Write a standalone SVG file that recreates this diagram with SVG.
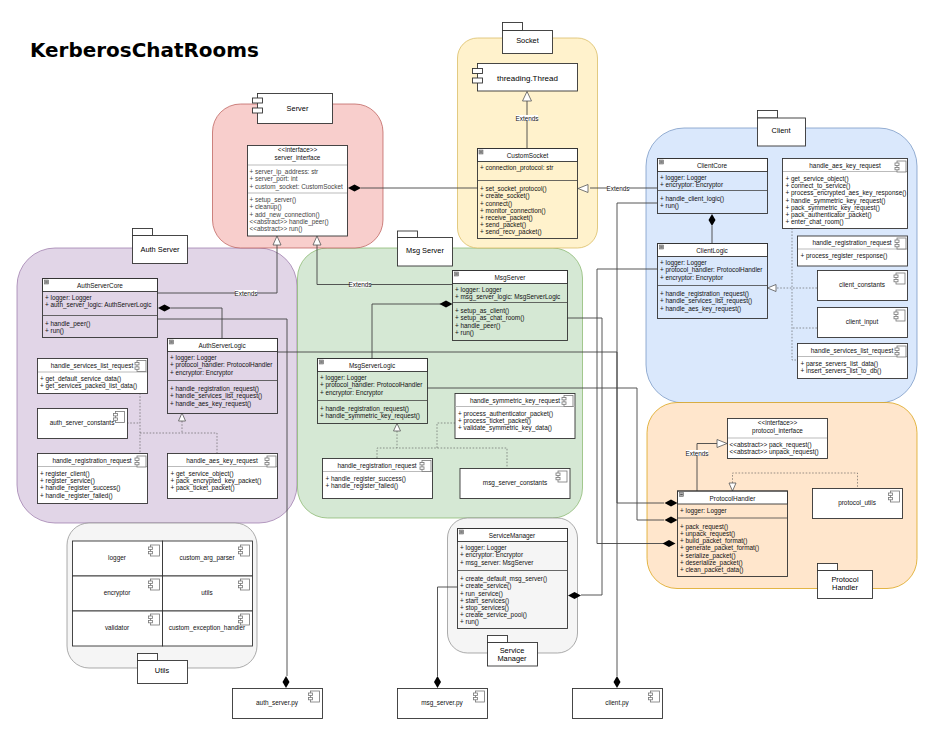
<svg xmlns="http://www.w3.org/2000/svg" xmlns:xlink="http://www.w3.org/1999/xlink" width="932" height="731" viewBox="0 0 932 731">
<style>
text{font-family:"Liberation Sans",Arial,sans-serif;font-size:6.4px;fill:#111}
.c{text-anchor:middle}
.p{font-size:7.4px;text-anchor:middle;fill:#000}
.t{font-family:"DejaVu Sans",sans-serif;font-weight:700;font-size:19.95px;fill:#000}
.g{stroke-width:.7}
.box{fill:none;stroke:#333;stroke-width:.9}
.w{fill:#fff;stroke:#333;stroke-width:.9}
.div{fill:none;stroke:#444;stroke-width:.8}
.lt{fill:none;stroke:#bbb;stroke-width:1}
.gr{fill:#444}
.ln{fill:none;stroke:#444;stroke-width:.9}
.ds{fill:none;stroke:#555;stroke-width:.6;stroke-dasharray:1.6 1.6}
.lab{fill:#fff;stroke:none}
.d{fill:#000;stroke:none}
.tri{fill:#fff;stroke:#555;stroke-width:.8}
.ic{fill:#fff;stroke:#777;stroke-width:.8}
.m{fill:#aaa;stroke:#555;stroke-width:.5}
.m2{stroke:#222;stroke-width:.6}
</style>
<defs>
<g id="ic"><rect class="ic" x="2" y="0" width="9" height="11"/><rect class="ic" x="0" y="2" width="4" height="2.4"/><rect class="ic" x="0" y="6.4" width="4" height="2.4"/></g>
<g id="col"><rect class="m" width="4" height="4"/><path class="m2" d="M.8 2H3.2"/></g>
<path id="dh" class="d" d="M-6.5 0L0 -3.5L6.5 0L0 3.5Z"/>
<path id="dv" class="d" d="M0 -6L3.5 0L0 6L-3.5 0Z"/>
</defs>
<text class="t" x="30" y="57">KerberosChatRooms</text>

<g id="auth-group"><rect class="g" x="17" y="248" width="280" height="275" rx="38" fill="#e1d5e7" stroke="#9673a6"/></g>
<g id="msg-group"><rect class="g" x="297.500" y="248" width="285" height="270" rx="30" fill="#d5e8d4" stroke="#82b366"/></g>
<g id="server-group"><rect class="g" x="212.500" y="104" width="170.500" height="144" rx="28" fill="#f8cecc" stroke="#b85450"/></g>
<g id="socket-group"><rect class="g" x="457.500" y="38" width="140" height="210" rx="20" fill="#fff2cc" stroke="#d6b656"/></g>
<g id="client-group"><rect class="g" x="646" y="128" width="271" height="275" rx="38" fill="#dae8fc" stroke="#6c8ebf"/></g>
<g id="protocol-group"><rect class="g" x="647" y="402.500" width="270" height="186" rx="30" fill="#ffe6cc" stroke="#d79b00"/></g>
<g id="utils-group"><rect class="g" x="67" y="523" width="190" height="145" rx="22" fill="#f5f5f5" stroke="#888"/></g>
<g id="manager-group"><rect class="g" x="447.500" y="518" width="130" height="135" rx="20" fill="#f5f5f5" stroke="#888"/></g>

<g id="connectors">
<path class="ln" d="M157 293H277V245"/>
<path class="ln" d="M171 308H222V338"/>
<path class="ln" d="M157 319H287V676"/>
<path class="ln" d="M277 352H617V497"/>
<path class="ln" d="M617 497V503H664"/>
<path class="ln" d="M452 284.500H317V245"/>
<path class="ln" d="M441 304H372V358"/>
<path class="ln" d="M427 388H637V520H664"/>
<path class="ln" d="M567 318H602V595H581"/>
<path class="ln" d="M657 269H597V543.500H664"/>
<path class="ln" d="M657 203H617V676"/>
<path class="ln" d="M657 188H590"/>
<path class="ln" d="M361 188H478"/>
<path class="ln" d="M527 148V101"/>
<path class="ln" d="M712 226V243"/>
<path class="ln" d="M697 491V443.500H717"/>
<path class="ln" d="M457 587H437.500V676"/>
<path class="ds" d="M140 393V453M127 423H140M182 421V433M140 433H217V453"/>
<path class="ds" d="M397 431V448M377 458V448H507V468M437 448V423H455"/>
<path class="ds" d="M792 228V360H797M817 288H777M817 328H792M807 251H818"/>
<path class="ds" d="M732.500 483V473H857.500V488"/>
<path class="tri" d="M277 236L281 245H273Z"/>
<path class="tri" d="M317 236L321 245H313Z"/>
<path class="tri" d="M527 91.500L531.500 101H522.500Z"/>
<path class="tri" d="M578 188.500L588 184.500V192.500Z"/>
<path class="tri" d="M182 413L185.500 421H178.500Z"/>
<path class="tri" d="M397 423.500L400.500 431H393.500Z"/>
<path class="tri" d="M767.500 288L776 284.500V291.500Z"/>
<path class="tri" d="M727 443.500L717 439.500V447.500Z"/>
<path class="tri" d="M732.500 491L729 483H736Z"/>
<use xlink:href="#dh" href="#dh" x="164.500" y="308"/>
<use xlink:href="#dh" href="#dh" x="446" y="304"/>
<use xlink:href="#dh" href="#dh" x="354.500" y="188"/>
<use xlink:href="#dh" href="#dh" x="671" y="503"/>
<use xlink:href="#dh" href="#dh" x="671" y="520"/>
<use xlink:href="#dh" href="#dh" x="669" y="543.500"/>
<use xlink:href="#dh" href="#dh" x="574.500" y="595.500"/>
<use xlink:href="#dv" href="#dv" x="712" y="220"/>
<use xlink:href="#dv" href="#dv" x="286" y="682"/>
<use xlink:href="#dv" href="#dv" x="437.500" y="682"/>
<use xlink:href="#dv" href="#dv" x="617" y="682"/>
<rect class="lab" x="235" y="290" width="22" height="6"/><text class="c" x="246" y="295.500">Extends</text>
<rect class="lab" x="349.500" y="281.500" width="21" height="6"/><text class="c" x="360" y="286.500">Extends</text>
<rect class="lab" x="516" y="115" width="22" height="6"/><text class="c" x="527" y="120.500">Extends</text>
<rect class="lab" x="607" y="185" width="22" height="6"/><text class="c" x="618" y="190.500">Extends</text>
<rect class="lab" x="686" y="450" width="22" height="6"/><text class="c" x="697" y="455.500">Extends</text>
</g>

<g id="pkg-auth"><rect class="w" x="132.500" y="228.500" width="20" height="7"/><rect class="w" x="132.500" y="235.500" width="55" height="28"/><text class="p" x="160" y="251.500">Auth Server</text></g>
<g id="pkg-msg"><rect class="w" x="397.500" y="231" width="20" height="6.500"/><rect class="w" x="397.500" y="237.500" width="55" height="28.500"/><text class="p" x="425" y="253">Msg Server</text></g>
<g id="pkg-socket"><rect class="w" x="502.500" y="22.500" width="20" height="8"/><rect class="w" x="502.500" y="30.500" width="50" height="23"/><text class="p" x="527.500" y="43">Socket</text></g>
<g id="pkg-client"><rect class="w" x="757.500" y="110.500" width="20" height="7.500"/><rect class="w" x="757.500" y="118" width="48" height="28"/><text class="p" x="781" y="133">Client</text></g>
<g id="pkg-protocol"><rect class="w" x="817.500" y="563.500" width="20" height="7"/><rect class="w" x="817.500" y="570.500" width="55" height="28"/><text class="p" x="845" y="582">Protocol</text><text class="p" x="845" y="590">Handler</text></g>
<g id="pkg-utils"><rect class="w" x="137.500" y="653.500" width="20" height="7"/><rect class="w" x="137.500" y="660.500" width="50" height="23"/><text class="p" x="162" y="673">Utils</text></g>
<g id="pkg-manager"><rect class="w" x="487.500" y="635.500" width="20" height="7"/><rect class="w" x="487.500" y="642.500" width="50" height="23.500"/><text class="p" x="512" y="652.500">Service</text><text class="p" x="512" y="660.500">Manager</text></g>

<g id="server"><rect class="w" x="257.500" y="93.500" width="75" height="30"/><rect class="w" x="252.500" y="98" width="10" height="5"/><rect class="w" x="252.500" y="108" width="10" height="5"/><text class="p" x="297.500" y="111">Server</text></g>
<g id="threading-thread"><rect class="w" x="477.500" y="63.500" width="100" height="27.500"/><rect class="w" x="472.500" y="68.500" width="10" height="5"/><rect class="w" x="472.500" y="78" width="10" height="5"/><text class="p" x="527.500" y="80.500" style="font-size:8px">threading.Thread</text></g>

<g id="server-interface"><rect class="w" x="247.500" y="145.500" width="100" height="90.500"/><path class="lt" d="M248 165H347"/><path class="lt" d="M248 193H347"/>
<text class="c" x="297.500" y="152">&lt;&lt;interface&gt;&gt;</text><text class="c" x="297.500" y="160">server_interface</text>
<g fill="#444"><text x="249.500" y="174" class="gr">+ server_ip_address: str</text><text x="249.500" y="181" class="gr">+ server_port: int</text><text x="249.500" y="189" class="gr">+ custom_socket: CustomSocket</text><text x="249.500" y="202" class="gr">+ setup_server()</text><text x="249.500" y="209" class="gr">+ cleanup()</text><text x="249.500" y="217" class="gr">+ add_new_connection()</text><text x="249.500" y="224" class="gr">&lt;&lt;abstract&gt;&gt; handle_peer()</text><text x="249.500" y="231" class="gr">&lt;&lt;abstract&gt;&gt; run()</text></g></g>

<g id="custom-socket"><rect class="w" x="477.500" y="148.500" width="100" height="13"/><rect class="box" x="477.500" y="148.500" width="100" height="90"/><path class="div" d="M477.500 180.500H577.500"/><use xlink:href="#col" href="#col" x="479" y="150"/>
<text class="c" x="527.500" y="157.500">CustomSocket</text>
<text x="480" y="170">+ connection_protocol: str</text>
<text x="480" y="191">+ set_socket_protocol()</text><text x="480" y="198">+ create_socket()</text><text x="480" y="206">+ connect()</text><text x="480" y="213">+ monitor_connection()</text><text x="480" y="220">+ receive_packet()</text><text x="480" y="227">+ send_packet()</text><text x="480" y="234">+ send_recv_packet()</text></g>

<g id="auth-server-core"><rect class="w" x="42.500" y="278.500" width="115" height="13"/><rect class="box" x="42.500" y="278.500" width="115" height="59"/><path class="div" d="M42.500 315.500H157.500"/><use xlink:href="#col" href="#col" x="44.500" y="280"/>
<text class="c" x="100" y="287.500">AuthServerCore</text>
<text x="45" y="300">+ logger: Logger</text><text x="45" y="307">+ auth_server_logic: AuthServerLogic</text><text x="45" y="326">+ handle_peer()</text><text x="45" y="333">+ run()</text></g>

<g id="auth-server-logic"><rect class="w" x="167.500" y="338.500" width="110" height="13"/><rect class="box" x="167.500" y="338.500" width="110" height="75"/><path class="div" d="M167.500 380.500H277.500"/><use xlink:href="#col" href="#col" x="169.500" y="340"/>
<text class="c" x="222" y="347.500">AuthServerLogic</text>
<text x="170" y="360">+ logger: Logger</text><text x="170" y="367">+ protocol_handler: ProtocolHandler</text><text x="170" y="375">+ encryptor: Encryptor</text><text x="170" y="391">+ handle_registration_request()</text><text x="170" y="398">+ handle_services_list_request()</text><text x="170" y="406">+ handle_aes_key_request()</text></g>

<g id="auth-services-list"><rect class="w" x="37.500" y="358.500" width="110" height="35"/><path class="lt" d="M38 372H147"/><use xlink:href="#ic" href="#ic" x="135" y="360.500"/>
<text class="c" x="92" y="367.500">handle_services_list_request</text><text x="40" y="381">+ get_default_service_data()</text><text x="40" y="388">+ get_services_packed_list_data()</text></g>
<g id="auth-constants"><rect class="w" x="37.500" y="408.500" width="90" height="30"/><use xlink:href="#ic" href="#ic" x="113.500" y="411.500"/><text class="c" x="82" y="425">auth_server_constants</text></g>
<g id="auth-registration"><rect class="w" x="37.500" y="453.500" width="110" height="50"/><path class="lt" d="M38 466.500H147"/><use xlink:href="#ic" href="#ic" x="135" y="456"/>
<text class="c" x="92" y="462.500">handle_registration_request</text><text x="40" y="476">+ register_client()</text><text x="40" y="483">+ register_service()</text><text x="40" y="490">+ handle_register_success()</text><text x="40" y="498">+ handle_register_failed()</text></g>
<g id="auth-aes"><rect class="w" x="167.500" y="453.500" width="110" height="45"/><path class="lt" d="M168 466.500H277"/><use xlink:href="#ic" href="#ic" x="265" y="456"/>
<text class="c" x="222" y="462.500">handle_aes_key_request</text><text x="170.500" y="476">+ get_service_object()</text><text x="170.500" y="483">+ pack_encrypted_key_packet()</text><text x="170.500" y="490">+ pack_ticket_packet()</text></g>

<g id="msg-server"><rect class="w" x="452.500" y="270.500" width="115" height="13"/><rect class="box" x="452.500" y="270.500" width="115" height="70"/><path class="div" d="M452.500 302.500H567.500"/><use xlink:href="#col" href="#col" x="454.500" y="272"/>
<text class="c" x="510" y="279.500">MsgServer</text>
<text x="455" y="292">+ logger: Logger</text><text x="455" y="299">+ msg_server_logic: MsgServerLogic</text><text x="455" y="313">+ setup_as_client()</text><text x="455" y="320">+ setup_as_chat_room()</text><text x="455" y="328">+ handle_peer()</text><text x="455" y="335">+ run()</text></g>

<g id="msg-server-logic"><rect class="w" x="317.500" y="358.500" width="110" height="13"/><rect class="box" x="317.500" y="358.500" width="110" height="65"/><path class="div" d="M317.500 400.500H427.500"/><use xlink:href="#col" href="#col" x="319.500" y="360"/>
<text class="c" x="372" y="367.500">MsgServerLogic</text>
<text x="320" y="380">+ logger: Logger</text><text x="320" y="387">+ protocol_handler: ProtocolHandler</text><text x="320" y="395">+ encryptor: Encryptor</text><text x="320" y="411">+ handle_registration_request()</text><text x="320" y="418">+ handle_symmetric_key_request()</text></g>

<g id="msg-symmetric"><rect class="w" x="455" y="393.500" width="120" height="45"/><path class="lt" d="M455.500 406.500H574.500"/><use xlink:href="#ic" href="#ic" x="562" y="395.500"/>
<text class="c" x="515" y="402.500">handle_symmetric_key_request</text><text x="458" y="416">+ process_authenticator_packet()</text><text x="458" y="423">+ process_ticket_packet()</text><text x="458" y="430">+ validate_symmetric_key_data()</text></g>
<g id="msg-registration"><rect class="w" x="322.500" y="458.500" width="110" height="40"/><path class="lt" d="M323 471.500H432"/><use xlink:href="#ic" href="#ic" x="420" y="460.500"/>
<text class="c" x="377" y="467.500">handle_registration_request</text><text x="325.500" y="481">+ handle_register_success()</text><text x="325.500" y="488">+ handle_register_failed()</text></g>
<g id="msg-constants"><rect class="w" x="460" y="468.500" width="110" height="30"/><use xlink:href="#ic" href="#ic" x="556" y="471"/><text class="c" x="515" y="485">msg_server_constants</text></g>

<g id="client-core"><rect class="w" x="657.500" y="158.500" width="110" height="13"/><rect class="box" x="657.500" y="158.500" width="110" height="55"/><path class="div" d="M657.500 190.500H767.500"/><use xlink:href="#col" href="#col" x="659.500" y="160"/>
<text class="c" x="712" y="167.500">ClientCore</text>
<text x="660" y="180">+ logger: Logger</text><text x="660" y="187">+ encryptor: Encryptor</text><text x="660" y="201">+ handle_client_logic()</text><text x="660" y="208">+ run()</text></g>
<g id="client-logic"><rect class="w" x="657.500" y="243.500" width="110" height="13"/><rect class="box" x="657.500" y="243.500" width="110" height="75"/><path class="div" d="M657.500 285.500H767.500"/><use xlink:href="#col" href="#col" x="659.500" y="245"/>
<text class="c" x="712" y="252.500">ClientLogic</text>
<text x="660" y="265">+ logger: Logger</text><text x="660" y="272">+ protocol_handler: ProtocolHandler</text><text x="660" y="280">+ encryptor: Encryptor</text><text x="660" y="296">+ handle_registration_request()</text><text x="660" y="303">+ handle_services_list_request()</text><text x="660" y="311">+ handle_aes_key_request()</text></g>
<g id="client-aes"><rect class="w" x="782.500" y="158.500" width="125" height="70"/><path class="lt" d="M783 171.500H907"/><use xlink:href="#ic" href="#ic" x="895" y="161"/>
<text class="c" x="845" y="167.500">handle_aes_key_request</text><text x="785.500" y="181">+ get_service_object()</text><text x="785.500" y="188">+ connect_to_service()</text><text x="785.500" y="195">+ process_encrypted_aes_key_response()</text><text x="785.500" y="203">+ handle_symmetric_key_request()</text><text x="785.500" y="210">+ pack_symmetric_key_request()</text><text x="785.500" y="217">+ pack_authenticator_packet()</text><text x="785.500" y="224">+ enter_chat_room()</text></g>
<g id="client-registration"><rect class="w" x="797.500" y="236" width="110" height="30"/><path class="lt" d="M798 249H907"/><use xlink:href="#ic" href="#ic" x="895" y="238"/>
<text class="c" x="852" y="244.500">handle_registration_request</text><text x="800.500" y="258">+ process_register_response()</text></g>
<g id="client-constants"><rect class="w" x="817.500" y="270.500" width="90" height="30"/><use xlink:href="#ic" href="#ic" x="894" y="273"/><text class="c" x="862" y="287">client_constants</text></g>
<g id="client-input"><rect class="w" x="817.500" y="307.500" width="90" height="30"/><use xlink:href="#ic" href="#ic" x="894" y="310"/><text class="c" x="862" y="324">client_input</text></g>
<g id="client-services-list"><rect class="w" x="797.500" y="343.500" width="110" height="35"/><path class="lt" d="M798 356.500H907"/><use xlink:href="#ic" href="#ic" x="895" y="346"/>
<text class="c" x="852" y="352.500">handle_services_list_request</text><text x="800.500" y="366">+ parse_servers_list_data()</text><text x="800.500" y="373">+ insert_servers_list_to_db()</text></g>

<g id="protocol-interface"><rect class="w" x="727.500" y="418.500" width="100" height="40"/><path class="lt" d="M728 438H827"/>
<text class="c" x="777.500" y="425">&lt;&lt;interface&gt;&gt;</text><text class="c" x="777.500" y="433">protocol_interface</text><text x="729.500" y="447">&lt;&lt;abstract&gt;&gt; pack_request()</text><text x="729.500" y="454">&lt;&lt;abstract&gt;&gt; unpack_request()</text></g>
<g id="protocol-handler"><rect class="w" x="677.500" y="491" width="110" height="13"/><rect class="box" x="677.500" y="491" width="110" height="85.500"/><path class="div" d="M677.500 518H787.500"/><use xlink:href="#col" href="#col" x="679.500" y="492.500"/>
<text class="c" x="732.500" y="500.500">ProtocolHandler</text>
<text x="680" y="513">+ logger: Logger</text><text x="680" y="529">+ pack_request()</text><text x="680" y="536">+ unpack_request()</text><text x="680" y="543">+ build_packet_format()</text><text x="680" y="550">+ generate_packet_format()</text><text x="680" y="558">+ serialize_packet()</text><text x="680" y="565">+ deserialize_packet()</text><text x="680" y="572">+ clean_packet_data()</text></g>
<g id="protocol-utils"><rect class="w" x="812.500" y="488.500" width="90" height="30"/><use xlink:href="#ic" href="#ic" x="888.500" y="491"/><text class="c" x="857" y="505">protocol_utils</text></g>

<g id="util-logger"><rect class="w" x="72.500" y="541" width="90" height="35"/><use xlink:href="#ic" href="#ic" x="148.500" y="545"/><text class="c" x="117" y="560">logger</text></g>
<g id="util-arg-parser"><rect class="w" x="162.500" y="541" width="90" height="35"/><use xlink:href="#ic" href="#ic" x="238.500" y="545"/><text class="c" x="207" y="560">custom_arg_parser</text></g>
<g id="util-encryptor"><rect class="w" x="72.500" y="576" width="90" height="35"/><use xlink:href="#ic" href="#ic" x="148.500" y="579"/><text class="c" x="117" y="595">encryptor</text></g>
<g id="util-utils"><rect class="w" x="162.500" y="576" width="90" height="35"/><use xlink:href="#ic" href="#ic" x="238.500" y="579"/><text class="c" x="207" y="595">utils</text></g>
<g id="util-validator"><rect class="w" x="72.500" y="611" width="90" height="35"/><use xlink:href="#ic" href="#ic" x="148.500" y="614"/><text class="c" x="117" y="630">validator</text></g>
<g id="util-exception"><rect class="w" x="162.500" y="611" width="90" height="35"/><use xlink:href="#ic" href="#ic" x="238.500" y="614"/><text class="c" x="207" y="630">custom_exception_handler</text></g>

<g id="service-manager"><rect class="w" x="457.500" y="528.500" width="110" height="13"/><rect class="box" x="457.500" y="528.500" width="110" height="100"/><path class="div" d="M457.500 570.500H567.500"/><use xlink:href="#col" href="#col" x="459.500" y="530"/>
<text class="c" x="512" y="537.500">ServiceManager</text>
<text x="460" y="550">+ logger: Logger</text><text x="460" y="557">+ encryptor: Encryptor</text><text x="460" y="565">+ msg_server: MsgServer</text><text x="460" y="581">+ create_default_msg_server()</text><text x="460" y="588">+ create_service()</text><text x="460" y="596">+ run_service()</text><text x="460" y="603">+ start_services()</text><text x="460" y="610">+ stop_services()</text><text x="460" y="617">+ create_service_pool()</text><text x="460" y="624">+ run()</text></g>

<g id="auth-server-py"><rect class="w" x="232.500" y="688.500" width="90" height="30"/><use xlink:href="#ic" href="#ic" x="308.500" y="691"/><text class="c" x="277" y="705">auth_server.py</text></g>
<g id="msg-server-py"><rect class="w" x="397.500" y="688.500" width="90" height="30"/><use xlink:href="#ic" href="#ic" x="473.500" y="691"/><text class="c" x="442" y="705">msg_server.py</text></g>
<g id="client-py"><rect class="w" x="572.500" y="688.500" width="90" height="30"/><use xlink:href="#ic" href="#ic" x="648.500" y="691"/><text class="c" x="617" y="705">client.py</text></g>
</svg>
